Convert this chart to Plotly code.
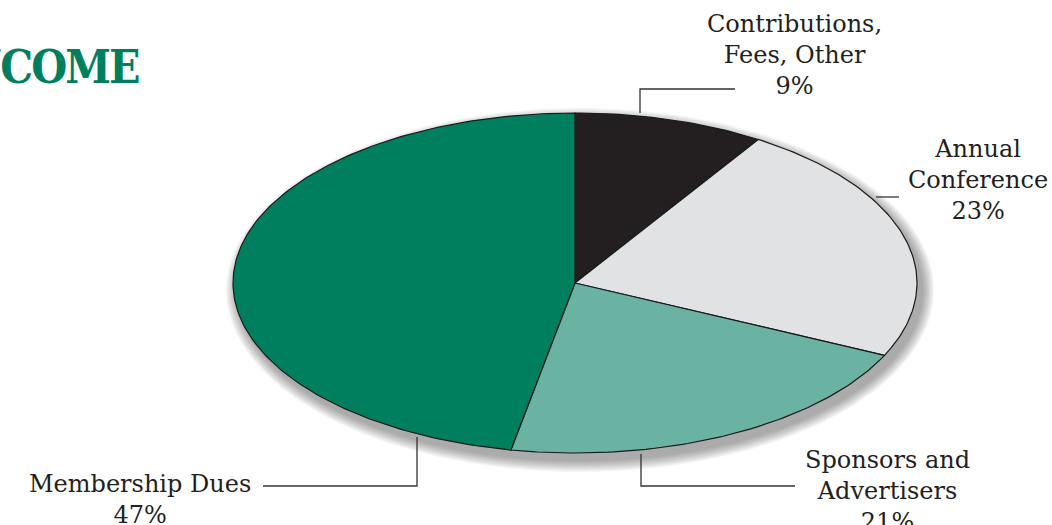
import numpy as np
import plotly.graph_objects as go

# ---- data ----
categories = ["Contributions, Fees, Other", "Annual Conference", "Sponsors and Advertisers", "Membership Dues"]
label_text = ["Contributions,<br>Fees, Other", "Annual<br>Conference", "Sponsors and<br>Advertisers", "Membership Dues"]
values = [9, 23, 21, 47]
colors = ["#231F20", "#E1E2E4", "#6AB3A3", "#007F5F"]
title_text = "INCOME"

# ---- geometry (pixel space) ----
W, H = 1052, 525
cx, cy, rx, ry = 575, 283, 342, 170

fig = go.Figure()

# soft drop shadow
for i in range(10, 0, -1):
    t = np.linspace(0, 2 * np.pi, 200)
    grow = i * 1.2
    fig.add_trace(go.Scatter(
        x=cx + 5 + (rx + grow) * np.sin(t), y=cy + 7 + (ry + grow) * np.cos(t),
        mode="lines", fill="toself", line=dict(width=0),
        fillcolor="rgba(60,60,60,0.05)", hoverinfo="skip", showlegend=False))

total = sum(values)
cum = 0
for v, c in zip(values, colors):
    a0 = cum / total * 2 * np.pi
    cum += v
    a1 = cum / total * 2 * np.pi
    t = np.linspace(a0, a1, max(int(v * 4), 8))
    xs = np.concatenate([[cx], cx + rx * np.sin(t), [cx]])
    ys = np.concatenate([[cy], cy - ry * np.cos(t), [cy]])
    fig.add_trace(go.Scatter(x=xs, y=ys, mode="lines", fill="toself",
                             fillcolor=c, line=dict(color="#1a1a1a", width=1.2),
                             hoverinfo="skip", showlegend=False))

# leader lines
leaders = [
    ([640, 640, 735], [113, 89, 89]),
    ([876, 899], [197, 197]),
    ([641, 641, 795], [454, 486, 486]),
    ([417, 417, 263], [437, 486, 486]),
]
for lx, ly in leaders:
    fig.add_trace(go.Scatter(x=lx, y=ly, mode="lines",
                             line=dict(color="#333333", width=1.3),
                             hoverinfo="skip", showlegend=False))

label_pos = [(794, 55), (978, 180), (887, 491), (140, 499)]
for txt, v, (lx, ly) in zip(label_text, values, label_pos):
    fig.add_annotation(x=lx, y=ly, xref="x", yref="y", text=f"{txt}<br>{v}%",
                       showarrow=False, align="center",
                       font=dict(family="DejaVu Serif", size=24, color="#231F20"))

fig.add_annotation(x=141, y=67, xref="x", yref="y",
                   text=f"<span style='letter-spacing:-2px'>{title_text}</span>",
                   showarrow=False, xanchor="right", yanchor="middle",
                   font=dict(family="DejaVu Serif Condensed", weight="bold",
                             size=46, color="#007F5F"))

fig.update_layout(
    width=W, height=H, margin=dict(l=0, r=0, t=0, b=0),
    paper_bgcolor="white", plot_bgcolor="white",
    xaxis=dict(range=[0, W], visible=False, fixedrange=True),
    yaxis=dict(range=[H, 0], visible=False, fixedrange=True),
    showlegend=False,
)
fig.write_html("out.html", config={"displayModeBar": False},
               post_script="document.body.style.margin='0';document.body.style.overflow='hidden';")
